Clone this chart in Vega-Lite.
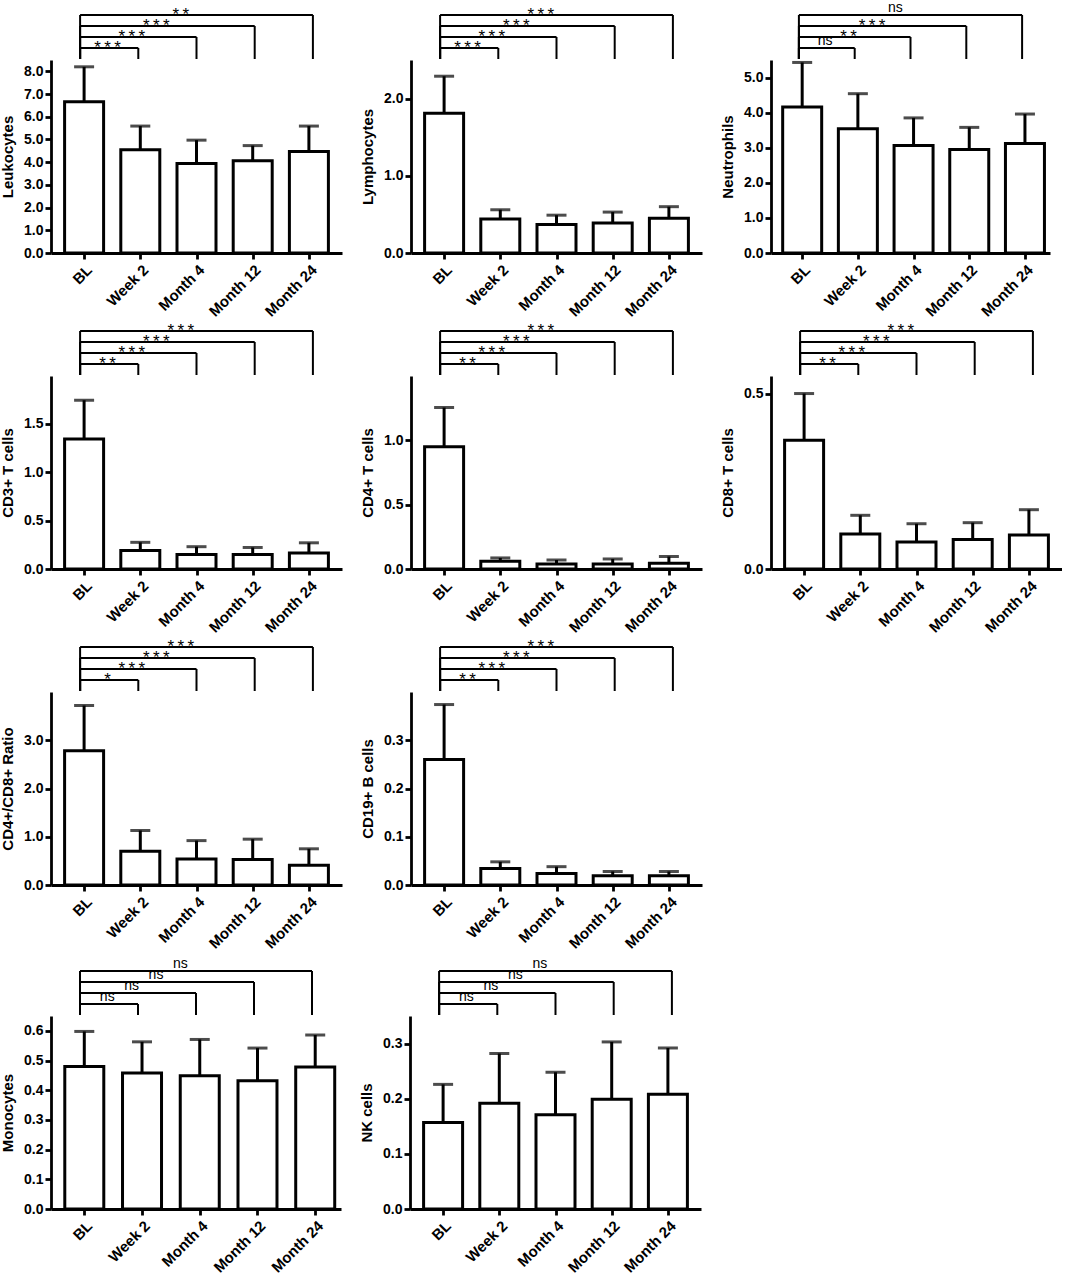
{
  "$schema": "https://vega.github.io/schema/vega-lite/v6.json",
  "background": "white",
  "padding": 0,
  "datasets": {
    "bars": [
      {"panel": "Leukocytes", "time": "BL", "mean": 6.66, "upper": 8.2},
      {"panel": "Leukocytes", "time": "Week 2", "mean": 4.55, "upper": 5.59},
      {"panel": "Leukocytes", "time": "Month 4", "mean": 3.94, "upper": 4.97},
      {"panel": "Leukocytes", "time": "Month 12", "mean": 4.06, "upper": 4.73},
      {"panel": "Leukocytes", "time": "Month 24", "mean": 4.47, "upper": 5.59},
      {"panel": "Lymphocytes", "time": "BL", "mean": 1.81, "upper": 2.29},
      {"panel": "Lymphocytes", "time": "Week 2", "mean": 0.44, "upper": 0.56},
      {"panel": "Lymphocytes", "time": "Month 4", "mean": 0.37, "upper": 0.49},
      {"panel": "Lymphocytes", "time": "Month 12", "mean": 0.39, "upper": 0.53},
      {"panel": "Lymphocytes", "time": "Month 24", "mean": 0.45, "upper": 0.6},
      {"panel": "Neutrophils", "time": "BL", "mean": 4.16, "upper": 5.43},
      {"panel": "Neutrophils", "time": "Week 2", "mean": 3.54, "upper": 4.54},
      {"panel": "Neutrophils", "time": "Month 4", "mean": 3.06, "upper": 3.85},
      {"panel": "Neutrophils", "time": "Month 12", "mean": 2.95, "upper": 3.58},
      {"panel": "Neutrophils", "time": "Month 24", "mean": 3.12, "upper": 3.96},
      {"panel": "CD3+ T cells", "time": "BL", "mean": 1.34, "upper": 1.74},
      {"panel": "CD3+ T cells", "time": "Week 2", "mean": 0.19, "upper": 0.275},
      {"panel": "CD3+ T cells", "time": "Month 4", "mean": 0.15, "upper": 0.23},
      {"panel": "CD3+ T cells", "time": "Month 12", "mean": 0.15, "upper": 0.222},
      {"panel": "CD3+ T cells", "time": "Month 24", "mean": 0.165, "upper": 0.27},
      {"panel": "CD4+ T cells", "time": "BL", "mean": 0.95, "upper": 1.255},
      {"panel": "CD4+ T cells", "time": "Week 2", "mean": 0.06, "upper": 0.086},
      {"panel": "CD4+ T cells", "time": "Month 4", "mean": 0.039, "upper": 0.07},
      {"panel": "CD4+ T cells", "time": "Month 12", "mean": 0.039, "upper": 0.078},
      {"panel": "CD4+ T cells", "time": "Month 24", "mean": 0.044, "upper": 0.097},
      {"panel": "CD8+ T cells", "time": "BL", "mean": 0.367, "upper": 0.5},
      {"panel": "CD8+ T cells", "time": "Week 2", "mean": 0.1, "upper": 0.153},
      {"panel": "CD8+ T cells", "time": "Month 4", "mean": 0.077, "upper": 0.129},
      {"panel": "CD8+ T cells", "time": "Month 12", "mean": 0.084, "upper": 0.132},
      {"panel": "CD8+ T cells", "time": "Month 24", "mean": 0.097, "upper": 0.169},
      {"panel": "CD4+/CD8+ Ratio", "time": "BL", "mean": 2.78, "upper": 3.72},
      {"panel": "CD4+/CD8+ Ratio", "time": "Week 2", "mean": 0.7, "upper": 1.13},
      {"panel": "CD4+/CD8+ Ratio", "time": "Month 4", "mean": 0.54, "upper": 0.92},
      {"panel": "CD4+/CD8+ Ratio", "time": "Month 12", "mean": 0.53, "upper": 0.95},
      {"panel": "CD4+/CD8+ Ratio", "time": "Month 24", "mean": 0.41, "upper": 0.75},
      {"panel": "CD19+ B cells", "time": "BL", "mean": 0.26, "upper": 0.374},
      {"panel": "CD19+ B cells", "time": "Week 2", "mean": 0.034, "upper": 0.048},
      {"panel": "CD19+ B cells", "time": "Month 4", "mean": 0.024, "upper": 0.038},
      {"panel": "CD19+ B cells", "time": "Month 12", "mean": 0.019, "upper": 0.028},
      {"panel": "CD19+ B cells", "time": "Month 24", "mean": 0.019, "upper": 0.028},
      {"panel": "Monocytes", "time": "BL", "mean": 0.48, "upper": 0.598},
      {"panel": "Monocytes", "time": "Week 2", "mean": 0.458, "upper": 0.563},
      {"panel": "Monocytes", "time": "Month 4", "mean": 0.449, "upper": 0.571},
      {"panel": "Monocytes", "time": "Month 12", "mean": 0.432, "upper": 0.542},
      {"panel": "Monocytes", "time": "Month 24", "mean": 0.478, "upper": 0.586},
      {"panel": "NK cells", "time": "BL", "mean": 0.157, "upper": 0.226},
      {"panel": "NK cells", "time": "Week 2", "mean": 0.192, "upper": 0.282},
      {"panel": "NK cells", "time": "Month 4", "mean": 0.171, "upper": 0.248},
      {"panel": "NK cells", "time": "Month 12", "mean": 0.199, "upper": 0.303},
      {"panel": "NK cells", "time": "Month 24", "mean": 0.208, "upper": 0.292}
    ],
    "brackets": [
      {"panel": "Leukocytes", "from": "BL", "to": "Week 2", "label": "***"},
      {"panel": "Leukocytes", "from": "BL", "to": "Month 4", "label": "***"},
      {"panel": "Leukocytes", "from": "BL", "to": "Month 12", "label": "***"},
      {"panel": "Leukocytes", "from": "BL", "to": "Month 24", "label": "**"},
      {"panel": "Lymphocytes", "from": "BL", "to": "Week 2", "label": "***"},
      {"panel": "Lymphocytes", "from": "BL", "to": "Month 4", "label": "***"},
      {"panel": "Lymphocytes", "from": "BL", "to": "Month 12", "label": "***"},
      {"panel": "Lymphocytes", "from": "BL", "to": "Month 24", "label": "***"},
      {"panel": "Neutrophils", "from": "BL", "to": "Week 2", "label": "ns"},
      {"panel": "Neutrophils", "from": "BL", "to": "Month 4", "label": "**"},
      {"panel": "Neutrophils", "from": "BL", "to": "Month 12", "label": "***"},
      {"panel": "Neutrophils", "from": "BL", "to": "Month 24", "label": "ns"},
      {"panel": "CD3+ T cells", "from": "BL", "to": "Week 2", "label": "**"},
      {"panel": "CD3+ T cells", "from": "BL", "to": "Month 4", "label": "***"},
      {"panel": "CD3+ T cells", "from": "BL", "to": "Month 12", "label": "***"},
      {"panel": "CD3+ T cells", "from": "BL", "to": "Month 24", "label": "***"},
      {"panel": "CD4+ T cells", "from": "BL", "to": "Week 2", "label": "**"},
      {"panel": "CD4+ T cells", "from": "BL", "to": "Month 4", "label": "***"},
      {"panel": "CD4+ T cells", "from": "BL", "to": "Month 12", "label": "***"},
      {"panel": "CD4+ T cells", "from": "BL", "to": "Month 24", "label": "***"},
      {"panel": "CD8+ T cells", "from": "BL", "to": "Week 2", "label": "**"},
      {"panel": "CD8+ T cells", "from": "BL", "to": "Month 4", "label": "***"},
      {"panel": "CD8+ T cells", "from": "BL", "to": "Month 12", "label": "***"},
      {"panel": "CD8+ T cells", "from": "BL", "to": "Month 24", "label": "***"},
      {"panel": "CD4+/CD8+ Ratio", "from": "BL", "to": "Week 2", "label": "*"},
      {"panel": "CD4+/CD8+ Ratio", "from": "BL", "to": "Month 4", "label": "***"},
      {"panel": "CD4+/CD8+ Ratio", "from": "BL", "to": "Month 12", "label": "***"},
      {"panel": "CD4+/CD8+ Ratio", "from": "BL", "to": "Month 24", "label": "***"},
      {"panel": "CD19+ B cells", "from": "BL", "to": "Week 2", "label": "**"},
      {"panel": "CD19+ B cells", "from": "BL", "to": "Month 4", "label": "***"},
      {"panel": "CD19+ B cells", "from": "BL", "to": "Month 12", "label": "***"},
      {"panel": "CD19+ B cells", "from": "BL", "to": "Month 24", "label": "***"},
      {"panel": "Monocytes", "from": "BL", "to": "Week 2", "label": "ns"},
      {"panel": "Monocytes", "from": "BL", "to": "Month 4", "label": "ns"},
      {"panel": "Monocytes", "from": "BL", "to": "Month 12", "label": "ns"},
      {"panel": "Monocytes", "from": "BL", "to": "Month 24", "label": "ns"},
      {"panel": "NK cells", "from": "BL", "to": "Week 2", "label": "ns"},
      {"panel": "NK cells", "from": "BL", "to": "Month 4", "label": "ns"},
      {"panel": "NK cells", "from": "BL", "to": "Month 12", "label": "ns"},
      {"panel": "NK cells", "from": "BL", "to": "Month 24", "label": "ns"}
    ]
  },
  "spacing": 0,
  "vconcat": [
    {
      "spacing": 18,
      "hconcat": [
        {
          "spacing": 0,
          "vconcat": [
            {
              "width": 291, "height": 55,
              "data": {"name": "brackets"},
              "transform": [
                {"filter": "datum.panel == 'Leukocytes'"},
                {"calculate": "indexof(['BL','Week 2','Month 4','Month 12','Month 24'], datum.to)", "as": "level"},
                {"calculate": "indexof(['BL','Week 2','Month 4','Month 12','Month 24'], datum.from)", "as": "start"},
                {"calculate": "0.05 + 0.42 * datum.level", "as": "lx"}
              ],
              "encoding": {"y": {"field": "level", "type": "quantitative", "scale": {"domain": [0, 5]}, "axis": null}},
              "layer": [
                {"mark": {"type": "rule", "strokeWidth": 2}, "encoding": {"x": {"field": "start", "type": "quantitative", "scale": {"domain": [-0.5, 4.5]}, "axis": null}, "x2": {"field": "level"}}},
                {"mark": {"type": "rule", "strokeWidth": 2}, "encoding": {"x": {"field": "start", "type": "quantitative", "axis": null}, "y2": {"field": "start"}}},
                {"mark": {"type": "rule", "strokeWidth": 2}, "encoding": {"x": {"field": "level", "type": "quantitative", "axis": null}, "y2": {"field": "start"}}},
                {"transform": [{"filter": "datum.label == 'ns'"}], "mark": {"type": "text", "dy": -3}, "encoding": {"x": {"field": "lx", "type": "quantitative", "axis": null}, "text": {"field": "label", "type": "nominal"}}},
                {"transform": [{"filter": "datum.label != 'ns'"}, {"calculate": "join(split(datum.label, ''), '\u2009')", "as": "stars"}], "mark": {"type": "text", "dy": 5, "fontSize": 17}, "encoding": {"x": {"field": "lx", "type": "quantitative", "axis": null}, "text": {"field": "stars", "type": "nominal"}}}
              ]
            },
            {
              "width": 291, "height": 193,
              "data": {"name": "bars"},
              "transform": [
                {"filter": "datum.panel == 'Leukocytes'"},
                {"calculate": "indexof(['BL','Week 2','Month 4','Month 12','Month 24'], datum.time)", "as": "idx"}
              ],
              "encoding": {
                "x": {"field": "idx", "type": "quantitative", "scale": {"domain": [-0.5, 4.5]}, "axis": {"values": [0, 1, 2, 3, 4], "labelExpr": "['BL','Week 2','Month 4','Month 12','Month 24'][datum.value]", "title": null}},
                "y": {"field": "mean", "type": "quantitative", "title": "Leukocytes", "scale": {"domain": [0, 8.5]}, "axis": {"values": [0, 1, 2, 3, 4, 5, 6, 7, 8], "format": ".1f"}}
              },
              "layer": [
                {"mark": {"type": "bar", "width": 39, "fill": "white", "stroke": "black", "strokeWidth": 3}},
                {"mark": {"type": "rule", "strokeWidth": 3}, "encoding": {"y2": {"field": "upper"}}},
                {"mark": {"type": "tick", "orient": "horizontal", "size": 20, "thickness": 3}, "encoding": {"y": {"field": "upper", "type": "quantitative", "title": "Leukocytes"}}}
              ]
            }
          ]
        },
        {
          "spacing": 0,
          "vconcat": [
            {
              "width": 291, "height": 55,
              "data": {"name": "brackets"},
              "transform": [
                {"filter": "datum.panel == 'Lymphocytes'"},
                {"calculate": "indexof(['BL','Week 2','Month 4','Month 12','Month 24'], datum.to)", "as": "level"},
                {"calculate": "indexof(['BL','Week 2','Month 4','Month 12','Month 24'], datum.from)", "as": "start"},
                {"calculate": "0.05 + 0.42 * datum.level", "as": "lx"}
              ],
              "encoding": {"y": {"field": "level", "type": "quantitative", "scale": {"domain": [0, 5]}, "axis": null}},
              "layer": [
                {"mark": {"type": "rule", "strokeWidth": 2}, "encoding": {"x": {"field": "start", "type": "quantitative", "scale": {"domain": [-0.5, 4.5]}, "axis": null}, "x2": {"field": "level"}}},
                {"mark": {"type": "rule", "strokeWidth": 2}, "encoding": {"x": {"field": "start", "type": "quantitative", "axis": null}, "y2": {"field": "start"}}},
                {"mark": {"type": "rule", "strokeWidth": 2}, "encoding": {"x": {"field": "level", "type": "quantitative", "axis": null}, "y2": {"field": "start"}}},
                {"transform": [{"filter": "datum.label == 'ns'"}], "mark": {"type": "text", "dy": -3}, "encoding": {"x": {"field": "lx", "type": "quantitative", "axis": null}, "text": {"field": "label", "type": "nominal"}}},
                {"transform": [{"filter": "datum.label != 'ns'"}, {"calculate": "join(split(datum.label, ''), '\u2009')", "as": "stars"}], "mark": {"type": "text", "dy": 5, "fontSize": 17}, "encoding": {"x": {"field": "lx", "type": "quantitative", "axis": null}, "text": {"field": "stars", "type": "nominal"}}}
              ]
            },
            {
              "width": 291, "height": 193,
              "data": {"name": "bars"},
              "transform": [
                {"filter": "datum.panel == 'Lymphocytes'"},
                {"calculate": "indexof(['BL','Week 2','Month 4','Month 12','Month 24'], datum.time)", "as": "idx"}
              ],
              "encoding": {
                "x": {"field": "idx", "type": "quantitative", "scale": {"domain": [-0.5, 4.5]}, "axis": {"values": [0, 1, 2, 3, 4], "labelExpr": "['BL','Week 2','Month 4','Month 12','Month 24'][datum.value]", "title": null}},
                "y": {"field": "mean", "type": "quantitative", "title": "Lymphocytes", "scale": {"domain": [0, 2.5]}, "axis": {"values": [0, 1, 2], "format": ".1f"}}
              },
              "layer": [
                {"mark": {"type": "bar", "width": 39, "fill": "white", "stroke": "black", "strokeWidth": 3}},
                {"mark": {"type": "rule", "strokeWidth": 3}, "encoding": {"y2": {"field": "upper"}}},
                {"mark": {"type": "tick", "orient": "horizontal", "size": 20, "thickness": 3}, "encoding": {"y": {"field": "upper", "type": "quantitative", "title": "Lymphocytes"}}}
              ]
            }
          ]
        },
        {
          "spacing": 0,
          "vconcat": [
            {
              "width": 279, "height": 55,
              "data": {"name": "brackets"},
              "transform": [
                {"filter": "datum.panel == 'Neutrophils'"},
                {"calculate": "indexof(['BL','Week 2','Month 4','Month 12','Month 24'], datum.to)", "as": "level"},
                {"calculate": "indexof(['BL','Week 2','Month 4','Month 12','Month 24'], datum.from)", "as": "start"},
                {"calculate": "0.05 + 0.42 * datum.level", "as": "lx"}
              ],
              "encoding": {"y": {"field": "level", "type": "quantitative", "scale": {"domain": [0, 5]}, "axis": null}},
              "layer": [
                {"mark": {"type": "rule", "strokeWidth": 2}, "encoding": {"x": {"field": "start", "type": "quantitative", "scale": {"domain": [-0.47, 4.36]}, "axis": null}, "x2": {"field": "level"}}},
                {"mark": {"type": "rule", "strokeWidth": 2}, "encoding": {"x": {"field": "start", "type": "quantitative", "axis": null}, "y2": {"field": "start"}}},
                {"mark": {"type": "rule", "strokeWidth": 2}, "encoding": {"x": {"field": "level", "type": "quantitative", "axis": null}, "y2": {"field": "start"}}},
                {"transform": [{"filter": "datum.label == 'ns'"}], "mark": {"type": "text", "dy": -3}, "encoding": {"x": {"field": "lx", "type": "quantitative", "axis": null}, "text": {"field": "label", "type": "nominal"}}},
                {"transform": [{"filter": "datum.label != 'ns'"}, {"calculate": "join(split(datum.label, ''), '\u2009')", "as": "stars"}], "mark": {"type": "text", "dy": 5, "fontSize": 17}, "encoding": {"x": {"field": "lx", "type": "quantitative", "axis": null}, "text": {"field": "stars", "type": "nominal"}}}
              ]
            },
            {
              "width": 279, "height": 193,
              "data": {"name": "bars"},
              "transform": [
                {"filter": "datum.panel == 'Neutrophils'"},
                {"calculate": "indexof(['BL','Week 2','Month 4','Month 12','Month 24'], datum.time)", "as": "idx"}
              ],
              "encoding": {
                "x": {"field": "idx", "type": "quantitative", "scale": {"domain": [-0.47, 4.36]}, "axis": {"values": [0, 1, 2, 3, 4], "labelExpr": "['BL','Week 2','Month 4','Month 12','Month 24'][datum.value]", "title": null}},
                "y": {"field": "mean", "type": "quantitative", "title": "Neutrophils", "scale": {"domain": [0, 5.5]}, "axis": {"values": [0, 1, 2, 3, 4, 5], "format": ".1f"}}
              },
              "layer": [
                {"mark": {"type": "bar", "width": 39, "fill": "white", "stroke": "black", "strokeWidth": 3}},
                {"mark": {"type": "rule", "strokeWidth": 3}, "encoding": {"y2": {"field": "upper"}}},
                {"mark": {"type": "tick", "orient": "horizontal", "size": 20, "thickness": 3}, "encoding": {"y": {"field": "upper", "type": "quantitative", "title": "Neutrophils"}}}
              ]
            }
          ]
        }
      ]
    },
    {
      "spacing": 0,
      "vconcat": [
        {
          "spacing": 18,
          "hconcat": [
            {
              "spacing": 0,
              "vconcat": [
                {
                  "width": 291, "height": 55,
                  "data": {"name": "brackets"},
                  "transform": [
                    {"filter": "datum.panel == 'CD3+ T cells'"},
                    {"calculate": "indexof(['BL','Week 2','Month 4','Month 12','Month 24'], datum.to)", "as": "level"},
                    {"calculate": "indexof(['BL','Week 2','Month 4','Month 12','Month 24'], datum.from)", "as": "start"},
                    {"calculate": "0.05 + 0.42 * datum.level", "as": "lx"}
                  ],
                  "encoding": {"y": {"field": "level", "type": "quantitative", "scale": {"domain": [0, 5]}, "axis": null}},
                  "layer": [
                    {"mark": {"type": "rule", "strokeWidth": 2}, "encoding": {"x": {"field": "start", "type": "quantitative", "scale": {"domain": [-0.5, 4.5]}, "axis": null}, "x2": {"field": "level"}}},
                    {"mark": {"type": "rule", "strokeWidth": 2}, "encoding": {"x": {"field": "start", "type": "quantitative", "axis": null}, "y2": {"field": "start"}}},
                    {"mark": {"type": "rule", "strokeWidth": 2}, "encoding": {"x": {"field": "level", "type": "quantitative", "axis": null}, "y2": {"field": "start"}}},
                    {"transform": [{"filter": "datum.label == 'ns'"}], "mark": {"type": "text", "dy": -3}, "encoding": {"x": {"field": "lx", "type": "quantitative", "axis": null}, "text": {"field": "label", "type": "nominal"}}},
                    {"transform": [{"filter": "datum.label != 'ns'"}, {"calculate": "join(split(datum.label, ''), '\u2009')", "as": "stars"}], "mark": {"type": "text", "dy": 5, "fontSize": 17}, "encoding": {"x": {"field": "lx", "type": "quantitative", "axis": null}, "text": {"field": "stars", "type": "nominal"}}}
                  ]
                },
                {
                  "width": 291, "height": 193,
                  "data": {"name": "bars"},
                  "transform": [
                    {"filter": "datum.panel == 'CD3+ T cells'"},
                    {"calculate": "indexof(['BL','Week 2','Month 4','Month 12','Month 24'], datum.time)", "as": "idx"}
                  ],
                  "encoding": {
                    "x": {"field": "idx", "type": "quantitative", "scale": {"domain": [-0.5, 4.5]}, "axis": {"values": [0, 1, 2, 3, 4], "labelExpr": "['BL','Week 2','Month 4','Month 12','Month 24'][datum.value]", "title": null}},
                    "y": {"field": "mean", "type": "quantitative", "title": "CD3+ T cells", "scale": {"domain": [0, 1.99]}, "axis": {"values": [0, 0.5, 1, 1.5], "format": ".1f"}}
                  },
                  "layer": [
                    {"mark": {"type": "bar", "width": 39, "fill": "white", "stroke": "black", "strokeWidth": 3}},
                    {"mark": {"type": "rule", "strokeWidth": 3}, "encoding": {"y2": {"field": "upper"}}},
                    {"mark": {"type": "tick", "orient": "horizontal", "size": 20, "thickness": 3}, "encoding": {"y": {"field": "upper", "type": "quantitative", "title": "CD3+ T cells"}}}
                  ]
                }
              ]
            },
            {
              "spacing": 0,
              "vconcat": [
                {
                  "width": 291, "height": 55,
                  "data": {"name": "brackets"},
                  "transform": [
                    {"filter": "datum.panel == 'CD4+ T cells'"},
                    {"calculate": "indexof(['BL','Week 2','Month 4','Month 12','Month 24'], datum.to)", "as": "level"},
                    {"calculate": "indexof(['BL','Week 2','Month 4','Month 12','Month 24'], datum.from)", "as": "start"},
                    {"calculate": "0.05 + 0.42 * datum.level", "as": "lx"}
                  ],
                  "encoding": {"y": {"field": "level", "type": "quantitative", "scale": {"domain": [0, 5]}, "axis": null}},
                  "layer": [
                    {"mark": {"type": "rule", "strokeWidth": 2}, "encoding": {"x": {"field": "start", "type": "quantitative", "scale": {"domain": [-0.5, 4.5]}, "axis": null}, "x2": {"field": "level"}}},
                    {"mark": {"type": "rule", "strokeWidth": 2}, "encoding": {"x": {"field": "start", "type": "quantitative", "axis": null}, "y2": {"field": "start"}}},
                    {"mark": {"type": "rule", "strokeWidth": 2}, "encoding": {"x": {"field": "level", "type": "quantitative", "axis": null}, "y2": {"field": "start"}}},
                    {"transform": [{"filter": "datum.label == 'ns'"}], "mark": {"type": "text", "dy": -3}, "encoding": {"x": {"field": "lx", "type": "quantitative", "axis": null}, "text": {"field": "label", "type": "nominal"}}},
                    {"transform": [{"filter": "datum.label != 'ns'"}, {"calculate": "join(split(datum.label, ''), '\u2009')", "as": "stars"}], "mark": {"type": "text", "dy": 5, "fontSize": 17}, "encoding": {"x": {"field": "lx", "type": "quantitative", "axis": null}, "text": {"field": "stars", "type": "nominal"}}}
                  ]
                },
                {
                  "width": 291, "height": 193,
                  "data": {"name": "bars"},
                  "transform": [
                    {"filter": "datum.panel == 'CD4+ T cells'"},
                    {"calculate": "indexof(['BL','Week 2','Month 4','Month 12','Month 24'], datum.time)", "as": "idx"}
                  ],
                  "encoding": {
                    "x": {"field": "idx", "type": "quantitative", "scale": {"domain": [-0.5, 4.5]}, "axis": {"values": [0, 1, 2, 3, 4], "labelExpr": "['BL','Week 2','Month 4','Month 12','Month 24'][datum.value]", "title": null}},
                    "y": {"field": "mean", "type": "quantitative", "title": "CD4+ T cells", "scale": {"domain": [0, 1.5]}, "axis": {"values": [0, 0.5, 1], "format": ".1f"}}
                  },
                  "layer": [
                    {"mark": {"type": "bar", "width": 39, "fill": "white", "stroke": "black", "strokeWidth": 3}},
                    {"mark": {"type": "rule", "strokeWidth": 3}, "encoding": {"y2": {"field": "upper"}}},
                    {"mark": {"type": "tick", "orient": "horizontal", "size": 20, "thickness": 3}, "encoding": {"y": {"field": "upper", "type": "quantitative", "title": "CD4+ T cells"}}}
                  ]
                }
              ]
            },
            {
              "spacing": 0,
              "vconcat": [
                {
                  "width": 291, "height": 55,
                  "data": {"name": "brackets"},
                  "transform": [
                    {"filter": "datum.panel == 'CD8+ T cells'"},
                    {"calculate": "indexof(['BL','Week 2','Month 4','Month 12','Month 24'], datum.to)", "as": "level"},
                    {"calculate": "indexof(['BL','Week 2','Month 4','Month 12','Month 24'], datum.from)", "as": "start"},
                    {"calculate": "0.05 + 0.42 * datum.level", "as": "lx"}
                  ],
                  "encoding": {"y": {"field": "level", "type": "quantitative", "scale": {"domain": [0, 5]}, "axis": null}},
                  "layer": [
                    {"mark": {"type": "rule", "strokeWidth": 2}, "encoding": {"x": {"field": "start", "type": "quantitative", "scale": {"domain": [-0.5, 4.5]}, "axis": null}, "x2": {"field": "level"}}},
                    {"mark": {"type": "rule", "strokeWidth": 2}, "encoding": {"x": {"field": "start", "type": "quantitative", "axis": null}, "y2": {"field": "start"}}},
                    {"mark": {"type": "rule", "strokeWidth": 2}, "encoding": {"x": {"field": "level", "type": "quantitative", "axis": null}, "y2": {"field": "start"}}},
                    {"transform": [{"filter": "datum.label == 'ns'"}], "mark": {"type": "text", "dy": -3}, "encoding": {"x": {"field": "lx", "type": "quantitative", "axis": null}, "text": {"field": "label", "type": "nominal"}}},
                    {"transform": [{"filter": "datum.label != 'ns'"}, {"calculate": "join(split(datum.label, ''), '\u2009')", "as": "stars"}], "mark": {"type": "text", "dy": 5, "fontSize": 17}, "encoding": {"x": {"field": "lx", "type": "quantitative", "axis": null}, "text": {"field": "stars", "type": "nominal"}}}
                  ]
                },
                {
                  "width": 291, "height": 193,
                  "data": {"name": "bars"},
                  "transform": [
                    {"filter": "datum.panel == 'CD8+ T cells'"},
                    {"calculate": "indexof(['BL','Week 2','Month 4','Month 12','Month 24'], datum.time)", "as": "idx"}
                  ],
                  "encoding": {
                    "x": {"field": "idx", "type": "quantitative", "scale": {"domain": [-0.5, 4.5]}, "axis": {"values": [0, 1, 2, 3, 4], "labelExpr": "['BL','Week 2','Month 4','Month 12','Month 24'][datum.value]", "title": null}},
                    "y": {"field": "mean", "type": "quantitative", "title": "CD8+ T cells", "scale": {"domain": [0, 0.55]}, "axis": {"values": [0, 0.5], "format": ".1f"}}
                  },
                  "layer": [
                    {"mark": {"type": "bar", "width": 39, "fill": "white", "stroke": "black", "strokeWidth": 3}},
                    {"mark": {"type": "rule", "strokeWidth": 3}, "encoding": {"y2": {"field": "upper"}}},
                    {"mark": {"type": "tick", "orient": "horizontal", "size": 20, "thickness": 3}, "encoding": {"y": {"field": "upper", "type": "quantitative", "title": "CD8+ T cells"}}}
                  ]
                }
              ]
            }
          ]
        },
        {
          "spacing": 4,
          "vconcat": [
            {
              "spacing": 18,
              "hconcat": [
                {
                  "spacing": 0,
                  "vconcat": [
                    {
                      "width": 291, "height": 55,
                      "data": {"name": "brackets"},
                      "transform": [
                        {"filter": "datum.panel == 'CD4+/CD8+ Ratio'"},
                        {"calculate": "indexof(['BL','Week 2','Month 4','Month 12','Month 24'], datum.to)", "as": "level"},
                        {"calculate": "indexof(['BL','Week 2','Month 4','Month 12','Month 24'], datum.from)", "as": "start"},
                        {"calculate": "0.05 + 0.42 * datum.level", "as": "lx"}
                      ],
                      "encoding": {"y": {"field": "level", "type": "quantitative", "scale": {"domain": [0, 5]}, "axis": null}},
                      "layer": [
                        {"mark": {"type": "rule", "strokeWidth": 2}, "encoding": {"x": {"field": "start", "type": "quantitative", "scale": {"domain": [-0.5, 4.5]}, "axis": null}, "x2": {"field": "level"}}},
                        {"mark": {"type": "rule", "strokeWidth": 2}, "encoding": {"x": {"field": "start", "type": "quantitative", "axis": null}, "y2": {"field": "start"}}},
                        {"mark": {"type": "rule", "strokeWidth": 2}, "encoding": {"x": {"field": "level", "type": "quantitative", "axis": null}, "y2": {"field": "start"}}},
                        {"transform": [{"filter": "datum.label == 'ns'"}], "mark": {"type": "text", "dy": -3}, "encoding": {"x": {"field": "lx", "type": "quantitative", "axis": null}, "text": {"field": "label", "type": "nominal"}}},
                        {"transform": [{"filter": "datum.label != 'ns'"}, {"calculate": "join(split(datum.label, ''), '\u2009')", "as": "stars"}], "mark": {"type": "text", "dy": 5, "fontSize": 17}, "encoding": {"x": {"field": "lx", "type": "quantitative", "axis": null}, "text": {"field": "stars", "type": "nominal"}}}
                      ]
                    },
                    {
                      "width": 291, "height": 193,
                      "data": {"name": "bars"},
                      "transform": [
                        {"filter": "datum.panel == 'CD4+/CD8+ Ratio'"},
                        {"calculate": "indexof(['BL','Week 2','Month 4','Month 12','Month 24'], datum.time)", "as": "idx"}
                      ],
                      "encoding": {
                        "x": {"field": "idx", "type": "quantitative", "scale": {"domain": [-0.5, 4.5]}, "axis": {"values": [0, 1, 2, 3, 4], "labelExpr": "['BL','Week 2','Month 4','Month 12','Month 24'][datum.value]", "title": null}},
                        "y": {"field": "mean", "type": "quantitative", "title": "CD4+/CD8+ Ratio", "scale": {"domain": [0, 4]}, "axis": {"values": [0, 1, 2, 3], "format": ".1f"}}
                      },
                      "layer": [
                        {"mark": {"type": "bar", "width": 39, "fill": "white", "stroke": "black", "strokeWidth": 3}},
                        {"mark": {"type": "rule", "strokeWidth": 3}, "encoding": {"y2": {"field": "upper"}}},
                        {"mark": {"type": "tick", "orient": "horizontal", "size": 20, "thickness": 3}, "encoding": {"y": {"field": "upper", "type": "quantitative", "title": "CD4+/CD8+ Ratio"}}}
                      ]
                    }
                  ]
                },
                {
                  "spacing": 0,
                  "vconcat": [
                    {
                      "width": 291, "height": 55,
                      "data": {"name": "brackets"},
                      "transform": [
                        {"filter": "datum.panel == 'CD19+ B cells'"},
                        {"calculate": "indexof(['BL','Week 2','Month 4','Month 12','Month 24'], datum.to)", "as": "level"},
                        {"calculate": "indexof(['BL','Week 2','Month 4','Month 12','Month 24'], datum.from)", "as": "start"},
                        {"calculate": "0.05 + 0.42 * datum.level", "as": "lx"}
                      ],
                      "encoding": {"y": {"field": "level", "type": "quantitative", "scale": {"domain": [0, 5]}, "axis": null}},
                      "layer": [
                        {"mark": {"type": "rule", "strokeWidth": 2}, "encoding": {"x": {"field": "start", "type": "quantitative", "scale": {"domain": [-0.5, 4.5]}, "axis": null}, "x2": {"field": "level"}}},
                        {"mark": {"type": "rule", "strokeWidth": 2}, "encoding": {"x": {"field": "start", "type": "quantitative", "axis": null}, "y2": {"field": "start"}}},
                        {"mark": {"type": "rule", "strokeWidth": 2}, "encoding": {"x": {"field": "level", "type": "quantitative", "axis": null}, "y2": {"field": "start"}}},
                        {"transform": [{"filter": "datum.label == 'ns'"}], "mark": {"type": "text", "dy": -3}, "encoding": {"x": {"field": "lx", "type": "quantitative", "axis": null}, "text": {"field": "label", "type": "nominal"}}},
                        {"transform": [{"filter": "datum.label != 'ns'"}, {"calculate": "join(split(datum.label, ''), '\u2009')", "as": "stars"}], "mark": {"type": "text", "dy": 5, "fontSize": 17}, "encoding": {"x": {"field": "lx", "type": "quantitative", "axis": null}, "text": {"field": "stars", "type": "nominal"}}}
                      ]
                    },
                    {
                      "width": 291, "height": 193,
                      "data": {"name": "bars"},
                      "transform": [
                        {"filter": "datum.panel == 'CD19+ B cells'"},
                        {"calculate": "indexof(['BL','Week 2','Month 4','Month 12','Month 24'], datum.time)", "as": "idx"}
                      ],
                      "encoding": {
                        "x": {"field": "idx", "type": "quantitative", "scale": {"domain": [-0.5, 4.5]}, "axis": {"values": [0, 1, 2, 3, 4], "labelExpr": "['BL','Week 2','Month 4','Month 12','Month 24'][datum.value]", "title": null}},
                        "y": {"field": "mean", "type": "quantitative", "title": "CD19+ B cells", "scale": {"domain": [0, 0.4]}, "axis": {"values": [0, 0.1, 0.2, 0.3], "format": ".1f"}}
                      },
                      "layer": [
                        {"mark": {"type": "bar", "width": 39, "fill": "white", "stroke": "black", "strokeWidth": 3}},
                        {"mark": {"type": "rule", "strokeWidth": 3}, "encoding": {"y2": {"field": "upper"}}},
                        {"mark": {"type": "tick", "orient": "horizontal", "size": 20, "thickness": 3}, "encoding": {"y": {"field": "upper", "type": "quantitative", "title": "CD19+ B cells"}}}
                      ]
                    }
                  ]
                }
              ]
            },
            {
              "spacing": 18,
              "hconcat": [
                {
                  "spacing": 0,
                  "vconcat": [
                    {
                      "width": 290, "height": 55,
                      "data": {"name": "brackets"},
                      "transform": [
                        {"filter": "datum.panel == 'Monocytes'"},
                        {"calculate": "indexof(['BL','Week 2','Month 4','Month 12','Month 24'], datum.to)", "as": "level"},
                        {"calculate": "indexof(['BL','Week 2','Month 4','Month 12','Month 24'], datum.from)", "as": "start"},
                        {"calculate": "0.05 + 0.42 * datum.level", "as": "lx"}
                      ],
                      "encoding": {"y": {"field": "level", "type": "quantitative", "scale": {"domain": [0, 5]}, "axis": null}},
                      "layer": [
                        {"mark": {"type": "rule", "strokeWidth": 2}, "encoding": {"x": {"field": "start", "type": "quantitative", "scale": {"domain": [-0.49, 4.36]}, "axis": null}, "x2": {"field": "level"}}},
                        {"mark": {"type": "rule", "strokeWidth": 2}, "encoding": {"x": {"field": "start", "type": "quantitative", "axis": null}, "y2": {"field": "start"}}},
                        {"mark": {"type": "rule", "strokeWidth": 2}, "encoding": {"x": {"field": "level", "type": "quantitative", "axis": null}, "y2": {"field": "start"}}},
                        {"transform": [{"filter": "datum.label == 'ns'"}], "mark": {"type": "text", "dy": -3}, "encoding": {"x": {"field": "lx", "type": "quantitative", "axis": null}, "text": {"field": "label", "type": "nominal"}}},
                        {"transform": [{"filter": "datum.label != 'ns'"}, {"calculate": "join(split(datum.label, ''), '\u2009')", "as": "stars"}], "mark": {"type": "text", "dy": 5, "fontSize": 17}, "encoding": {"x": {"field": "lx", "type": "quantitative", "axis": null}, "text": {"field": "stars", "type": "nominal"}}}
                      ]
                    },
                    {
                      "width": 290, "height": 193,
                      "data": {"name": "bars"},
                      "transform": [
                        {"filter": "datum.panel == 'Monocytes'"},
                        {"calculate": "indexof(['BL','Week 2','Month 4','Month 12','Month 24'], datum.time)", "as": "idx"}
                      ],
                      "encoding": {
                        "x": {"field": "idx", "type": "quantitative", "scale": {"domain": [-0.49, 4.36]}, "axis": {"values": [0, 1, 2, 3, 4], "labelExpr": "['BL','Week 2','Month 4','Month 12','Month 24'][datum.value]", "title": null}},
                        "y": {"field": "mean", "type": "quantitative", "title": "Monocytes", "scale": {"domain": [0, 0.65]}, "axis": {"values": [0, 0.1, 0.2, 0.3, 0.4, 0.5, 0.6], "format": ".1f"}}
                      },
                      "layer": [
                        {"mark": {"type": "bar", "width": 39, "fill": "white", "stroke": "black", "strokeWidth": 3}},
                        {"mark": {"type": "rule", "strokeWidth": 3}, "encoding": {"y2": {"field": "upper"}}},
                        {"mark": {"type": "tick", "orient": "horizontal", "size": 20, "thickness": 3}, "encoding": {"y": {"field": "upper", "type": "quantitative", "title": "Monocytes"}}}
                      ]
                    }
                  ]
                },
                {
                  "spacing": 0,
                  "vconcat": [
                    {
                      "width": 291, "height": 55,
                      "data": {"name": "brackets"},
                      "transform": [
                        {"filter": "datum.panel == 'NK cells'"},
                        {"calculate": "indexof(['BL','Week 2','Month 4','Month 12','Month 24'], datum.to)", "as": "level"},
                        {"calculate": "indexof(['BL','Week 2','Month 4','Month 12','Month 24'], datum.from)", "as": "start"},
                        {"calculate": "0.05 + 0.42 * datum.level", "as": "lx"}
                      ],
                      "encoding": {"y": {"field": "level", "type": "quantitative", "scale": {"domain": [0, 5]}, "axis": null}},
                      "layer": [
                        {"mark": {"type": "rule", "strokeWidth": 2}, "encoding": {"x": {"field": "start", "type": "quantitative", "scale": {"domain": [-0.5, 4.5]}, "axis": null}, "x2": {"field": "level"}}},
                        {"mark": {"type": "rule", "strokeWidth": 2}, "encoding": {"x": {"field": "start", "type": "quantitative", "axis": null}, "y2": {"field": "start"}}},
                        {"mark": {"type": "rule", "strokeWidth": 2}, "encoding": {"x": {"field": "level", "type": "quantitative", "axis": null}, "y2": {"field": "start"}}},
                        {"transform": [{"filter": "datum.label == 'ns'"}], "mark": {"type": "text", "dy": -3}, "encoding": {"x": {"field": "lx", "type": "quantitative", "axis": null}, "text": {"field": "label", "type": "nominal"}}},
                        {"transform": [{"filter": "datum.label != 'ns'"}, {"calculate": "join(split(datum.label, ''), '\u2009')", "as": "stars"}], "mark": {"type": "text", "dy": 5, "fontSize": 17}, "encoding": {"x": {"field": "lx", "type": "quantitative", "axis": null}, "text": {"field": "stars", "type": "nominal"}}}
                      ]
                    },
                    {
                      "width": 291, "height": 193,
                      "data": {"name": "bars"},
                      "transform": [
                        {"filter": "datum.panel == 'NK cells'"},
                        {"calculate": "indexof(['BL','Week 2','Month 4','Month 12','Month 24'], datum.time)", "as": "idx"}
                      ],
                      "encoding": {
                        "x": {"field": "idx", "type": "quantitative", "scale": {"domain": [-0.5, 4.5]}, "axis": {"values": [0, 1, 2, 3, 4], "labelExpr": "['BL','Week 2','Month 4','Month 12','Month 24'][datum.value]", "title": null}},
                        "y": {"field": "mean", "type": "quantitative", "title": "NK cells", "scale": {"domain": [0, 0.35]}, "axis": {"values": [0, 0.1, 0.2, 0.3], "format": ".1f"}}
                      },
                      "layer": [
                        {"mark": {"type": "bar", "width": 39, "fill": "white", "stroke": "black", "strokeWidth": 3}},
                        {"mark": {"type": "rule", "strokeWidth": 3}, "encoding": {"y2": {"field": "upper"}}},
                        {"mark": {"type": "tick", "orient": "horizontal", "size": 20, "thickness": 3}, "encoding": {"y": {"field": "upper", "type": "quantitative", "title": "NK cells"}}}
                      ]
                    }
                  ]
                }
              ]
            }
          ]
        }
      ]
    }
  ],
  "config": {
    "view": {"stroke": null},
    "font": "Liberation Sans",
    "mark": {"color": "black"},
    "text": {"font": "Liberation Sans", "fontSize": 14, "baseline": "alphabetic", "align": "center", "color": "black"},
    "axis": {
      "grid": false,
      "domainColor": "black",
      "domainWidth": 2.8,
      "tickColor": "black",
      "tickWidth": 2.8,
      "tickSize": 6,
      "labelFont": "Liberation Sans",
      "labelFontWeight": "bold",
      "labelFontSize": 14,
      "labelColor": "black",
      "labelPadding": 2,
      "titleFont": "Liberation Sans",
      "titleFontWeight": "bold",
      "titleFontSize": 15,
      "titleColor": "black",
      "titlePadding": 8
    },
    "axisX": {"labelAngle": -45, "labelPadding": 3, "labelFontSize": 15, "labelOverlap": false}
  }
}
